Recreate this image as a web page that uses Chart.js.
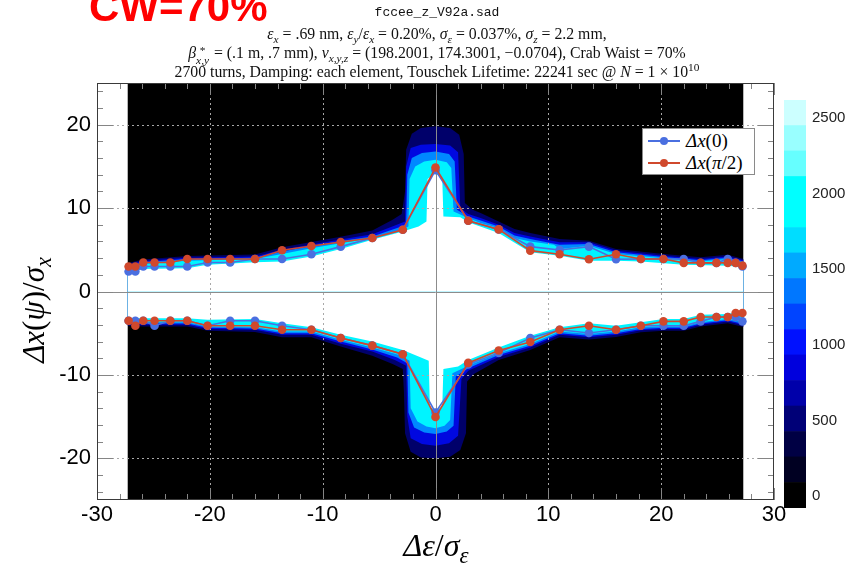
<!DOCTYPE html>
<html>
<head>
<meta charset="utf-8">
<script src="https://cdn.jsdelivr.net/npm/chart.js"></script>
<style>
  body { margin: 0; width: 861px; height: 570px; position: relative; overflow: hidden; background: #fff; }
  canvas { position: absolute; }
  .cw { position: absolute; left: 89px; top: -11px; font: bold 42px "Liberation Sans", sans-serif; color: #ff0000; line-height: 36px; white-space: nowrap; }
  .tl { position: absolute; left: 0; width: 874px; text-align: center; font: 15.8px "Liberation Serif", serif; line-height: 18px; white-space: nowrap; color: #111; }
  .mono { font: 13px "Liberation Mono", monospace; }
  sub, sup { line-height: 0; font-size: 0.72em; }
  .ss { display: inline-flex; flex-direction: column; vertical-align: 0.35em; font-size: 0.72em; line-height: 0.85; margin-right: 1px; }
  .axt { position: absolute; width: 220px; height: 44px; line-height: 44px; text-align: center; font: italic 31px "Liberation Serif", serif; white-space: nowrap; }
  .up { font-style: normal; }
  #legend { position: absolute; left: 642px; top: 128px; width: 111px; height: 45px; border: 1px solid #8a8a8a; background: #fff; }
  .lrow { position: absolute; left: 4px; height: 20px; display: flex; align-items: center; font: italic 19px "Liberation Serif", serif; white-space: nowrap; }
  .lrow svg { margin-right: 5px; }
</style>
</head>
<body>
<canvas id="main" width="861" height="570" style="left:0;top:0"></canvas>
<canvas id="cbar" width="77" height="440" style="left:784px;top:85px"></canvas>

<div class="cw">CW=70%</div>
<div class="tl mono" style="top:5px">fccee_z_V92a.sad</div>
<div class="tl" style="top:25px"><i>ε</i><sub><i>x</i></sub> = .69 nm, <i>ε</i><sub><i>y</i></sub>/<i>ε</i><sub><i>x</i></sub> = 0.20%, <i>σ</i><sub><i>ε</i></sub> = 0.037%, <i>σ</i><sub><i>z</i></sub> = 2.2 mm,</div>
<div class="tl" style="top:44px"><i>β</i><span class="ss"><span>*</span><span><i>x,y</i></span></span> = (.1 m, .7 mm), <i>ν</i><sub><i>x,y,z</i></sub> = (198.2001, 174.3001, −0.0704), Crab Waist = 70%</div>
<div class="tl" style="top:63px">2700 turns, Damping: each element, Touschek Lifetime: 22241 sec @ <i>N</i> = 1 × 10<sup>10</sup></div>

<div class="axt" style="left:-72px;top:288px;transform:rotate(-90deg)">Δx<span class="up">(</span>ψ<span class="up">)</span><span class="up">/</span>σ<sub>x</sub></div>
<div class="axt" style="left:326px;top:527px;font-size:32px">Δε<span class="up">/</span>σ<sub>ε</sub></div>

<div id="legend">
  <div class="lrow" style="top:2px"><svg width="34" height="12"><line x1="1" y1="6" x2="33" y2="6" stroke="#4a6fe0" stroke-width="2"/><circle cx="17" cy="6" r="4" fill="#4a6fe0"/></svg>Δx<span class="up">(0)</span></div>
  <div class="lrow" style="top:24px"><svg width="34" height="12"><line x1="1" y1="6" x2="33" y2="6" stroke="#d0482c" stroke-width="2"/><circle cx="17" cy="6" r="4" fill="#d0482c"/></svg>Δx<span class="up">(</span>π<span class="up">/2)</span></div>
</div>

<script>
// amplitude limit at each energy offset (units of sigma)
const dE = [-27.2, -26.6, -25.9, -24.9, -23.5, -22.0, -20.2, -18.2, -16.0, -13.6, -11.0, -8.4, -5.6, -2.9, 0,
            2.9, 5.6, 8.4, 11.0, 13.6, 16.0, 18.2, 20.2, 22.0, 23.5, 24.9, 25.9, 26.6, 27.2];
const blueUpper = [2.4, 2.4, 3.0, 3.0, 3.0, 3.0, 3.47, 3.47, 3.9, 3.9, 4.47, 5.38, 6.42, 7.4, 14.54,
                   8.48, 7.45, 5.38, 4.98, 5.38, 3.87, 3.9, 3.9, 3.9, 3.43, 3.43, 3.9, 3.43, 3.0];
const blueLower = [-3.5, -3.5, -3.5, -4.1, -3.5, -3.5, -4.1, -3.5, -3.5, -4.1, -4.58, -5.57, -6.49, -7.52, -14.5,
                   -8.75, -7.36, -5.57, -4.58, -4.97, -4.58, -4.1, -4.1, -4.1, -3.58, -3.06, -3.06, -3.06, -3.58];
const redUpper = [3.0, 3.0, 3.47, 3.47, 3.47, 3.9, 3.9, 3.9, 3.9, 4.94, 5.46, 5.94, 6.42, 7.4, 14.86,
                  8.48, 7.45, 4.9, 4.47, 3.87, 4.47, 3.9, 3.9, 3.43, 3.43, 3.43, 3.43, 3.43, 3.1];
const redLower = [-3.5, -4.1, -3.5, -3.5, -3.5, -3.5, -4.1, -4.1, -4.1, -4.58, -4.58, -5.57, -6.49, -7.52, -15.05,
                  -8.56, -7.08, -6.05, -4.58, -4.1, -4.58, -4.1, -3.58, -3.58, -3.06, -3.06, -3.06, -2.58, -2.58];

// survival density contours (outer edge of each colour level), [dE, amplitude]
const whiteUp = [[-27.3,2.2],[-25.9,2.7],[-22,2.8],[-20.2,3.2],[-16,3.5],[-13.6,3.6],[-11,4.2],[-8.4,5.1],[-5.6,6.2],[-2.9,7.2],[-1.5,7.8],[-0.8,8.4],[-0.7,13.5],[0,14.2],[0.6,13.5],[0.7,9.0],[2.2,8.9],[2.9,8.3],[5.6,7.0],[8.4,4.7],[11,4.3],[13.6,3.7],[16,3.7],[18.2,3.6],[22,3.2],[25.9,3.1],[27.3,2.9]];
const cyanUp = [[-27.3,2.9],[-25.9,3.3],[-22,3.7],[-16,3.9],[-13.6,4.5],[-11,5.2],[-8.4,5.8],[-5.6,6.4],[-3.2,7.3],[-2.4,7.8],[-2.3,13.5],[-1.8,15.0],[-1,15.6],[0,15.8],[1,15.5],[1.4,14.8],[1.6,9.6],[2.9,8.8],[4,8.2],[5.6,7.6],[7,6.4],[8.4,6.0],[10.5,5.6],[11,5.1],[13.6,5.5],[16,4.5],[20.2,4.0],[23.5,3.6],[25.9,3.9],[27.3,3.4]];
const azureUp = [[-27.3,3.05],[-25.9,3.5],[-22,3.9],[-16,4.05],[-13.6,4.8],[-11,5.45],[-8.4,6.05],[-5.6,6.6],[-3.4,7.6],[-2.6,8.0],[-2.5,14],[-2.1,16],[-1.2,16.6],[0,16.8],[1.2,16.5],[1.7,15.6],[1.9,9.8],[2.9,9.0],[4,8.5],[5.6,7.8],[7,6.7],[8.4,6.3],[11,5.6],[13.6,5.7],[16,4.7],[20.2,4.15],[23.5,3.75],[25.9,4.05],[27.3,3.6]];
const blueUp = [[-27.3,3.2],[-25.9,3.65],[-22,4.05],[-16,4.2],[-13.6,5.0],[-11,5.65],[-8.4,6.25],[-5.6,6.85],[-3.6,7.9],[-2.7,8.4],[-2.6,15],[-2.2,17.2],[-1.3,17.6],[0,17.7],[1.3,17.5],[2,16.7],[2.2,10],[2.9,9.3],[4,8.8],[5.6,8.0],[7,7.0],[8.4,6.6],[11,5.9],[13.6,5.9],[16,4.9],[20.2,4.3],[23.5,3.9],[25.9,4.2],[27.3,3.75]];
const navyUp = [[-27.3,3.4],[-25.9,3.85],[-22,4.25],[-16,4.45],[-13.6,5.3],[-11,5.95],[-8.4,6.55],[-5.6,7.3],[-3.8,8.6],[-3.0,9.3],[-2.7,12],[-2.6,17],[-2.1,18.9],[-1.3,19.6],[0,19.8],[1.3,19.6],[2.1,18.8],[2.5,16.5],[2.6,10.6],[3.3,9.8],[4,9.4],[5.6,8.4],[7,7.5],[8.4,7.0],[11,6.3],[13.6,6.1],[16,5.1],[20.2,4.5],[23.5,4.1],[25.9,4.4],[27.3,3.9]];
const whiteLow = [[-27.3,-3.2],[-25.9,-3.2],[-22,-3.2],[-20.2,-3.4],[-16,-3.3],[-13.6,-3.8],[-11,-4.3],[-8.4,-5.2],[-5.6,-6.0],[-2.9,-7.0],[-1.5,-7.8],[-0.6,-8.3],[-0.5,-13.8],[0,-14.3],[0.6,-13.8],[0.7,-9.3],[2,-9.0],[2.9,-8.2],[5.6,-6.7],[8.4,-5.3],[11,-4.3],[13.6,-3.8],[16,-4.1],[18.2,-3.7],[20.2,-3.3],[22,-3.3],[23.5,-2.8],[25.9,-2.7],[27.3,-2.3]];
const cyanLow = [[-27.3,-3.6],[-25.9,-3.7],[-22,-3.7],[-20.2,-4.2],[-16,-4.3],[-13.6,-4.8],[-11,-4.8],[-8.4,-5.8],[-5.6,-6.7],[-3.2,-7.6],[-2.3,-8.3],[-2.2,-14],[-1.6,-15.6],[-0.8,-16.2],[0,-16.4],[0.8,-16.1],[1.3,-15.4],[1.5,-9.8],[2.9,-8.9],[5.6,-7.4],[8.4,-6.3],[11,-4.8],[13.6,-5.1],[16,-4.8],[18.2,-4.3],[20.2,-4.2],[22,-4.2],[23.5,-3.7],[25.9,-3.3],[27.3,-3.7]];
const azureLow = [[-27.3,-3.75],[-25.9,-3.85],[-22,-3.85],[-20.2,-4.35],[-16,-4.45],[-13.6,-5.0],[-11,-5.0],[-8.4,-6.0],[-5.6,-6.95],[-3.4,-7.9],[-2.5,-8.6],[-2.4,-14.5],[-1.9,-16.3],[-1,-16.9],[0,-17.1],[1,-16.8],[1.6,-16.1],[1.8,-10.2],[2.9,-9.2],[5.6,-7.6],[8.4,-6.5],[11,-5.0],[13.6,-5.3],[16,-5.0],[18.2,-4.5],[20.2,-4.35],[22,-4.35],[23.5,-3.85],[25.9,-3.45],[27.3,-3.9]];
const blueLow = [[-27.3,-3.9],[-25.9,-4.0],[-22,-4.0],[-20.2,-4.5],[-16,-4.6],[-13.6,-5.2],[-11,-5.2],[-8.4,-6.25],[-5.6,-7.2],[-3.6,-8.2],[-2.6,-8.9],[-2.5,-15],[-2.2,-17.6],[-1.2,-18.3],[0,-18.5],[1.2,-18.2],[2.0,-17.3],[2.3,-10.5],[2.9,-9.5],[5.6,-7.85],[8.4,-6.7],[11,-5.2],[13.6,-5.5],[16,-5.2],[18.2,-4.65],[20.2,-4.5],[22,-4.5],[23.5,-4.0],[25.9,-3.6],[27.3,-4.05]];
const navyLow = [[-27.3,-4.1],[-25.9,-4.2],[-22,-4.2],[-20.2,-4.7],[-16,-4.85],[-13.6,-5.5],[-11,-5.5],[-8.4,-6.6],[-5.6,-7.7],[-3.8,-8.7],[-2.9,-9.3],[-2.8,-12],[-2.7,-17],[-2.2,-19.2],[-1.3,-19.9],[0,-20.0],[1.3,-19.8],[2.2,-19.0],[2.7,-17],[2.8,-10.8],[3.4,-9.9],[5.6,-8.2],[8.4,-7.0],[11,-5.5],[13.6,-5.75],[16,-5.45],[18.2,-4.9],[20.2,-4.7],[22,-4.7],[23.5,-4.2],[25.9,-3.8],[27.3,-4.25]];
const trackedRange = [[-27.3, 25], [27.3, 25]];

const xTicks = [-30, -20, -10, 0, 10, 20, 30];
const yTicks = [-20, -10, 0, 10, 20];
const gridLines = [-20, -10, 10, 20];

// colour bar: turns survived
const colorbarEdges = [0, 169, 338, 506, 675, 844, 1013, 1181, 1350, 1519, 1688, 1856, 2025, 2194, 2363, 2531, 2700];
const colorbarColors = ['#000000', '#000022', '#000044', '#000077', '#0000aa', '#0000dd', '#0011ff', '#0044ff',
                        '#0077ff', '#00aaff', '#00ddff', '#00ffff', '#00ffff', '#66ffff', '#99ffff', '#ccffff'];
const colorbarTicks = [0, 500, 1000, 1500, 2000, 2500];

const BLUE = '#4a6fe0', RED = '#d0482c';

function seriesLine(values, color) {
  return {
    data: dE.map((x, i) => ({ x: x, y: values[i] })),
    borderColor: color, backgroundColor: color, borderWidth: 1.6,
    pointRadius: 4.3, pointBorderWidth: 0, fill: false, tension: 0
  };
}
function band(points, color) {
  return {
    data: points, borderWidth: 0, borderColor: 'rgba(0,0,0,0)', backgroundColor: color,
    pointRadius: 0, fill: { value: 0 }, tension: 0
  };
}

const frameTicks = {
  id: 'frameTicks',
  beforeDatasetDraw(chart, args) {
    if (args.index !== 3) return;
    const { ctx, chartArea: a, scales: { x, y } } = chart;
    ctx.save();
    ctx.lineWidth = 1;
    ctx.strokeStyle = '#a8a8a8';
    ctx.setLineDash([2, 3]);
    gridLines.forEach(v => {
      const px = Math.round(x.getPixelForValue(v)) + 0.5;
      ctx.beginPath(); ctx.moveTo(px, a.top); ctx.lineTo(px, a.bottom); ctx.stroke();
      const py = Math.round(y.getPixelForValue(v)) + 0.5;
      ctx.beginPath(); ctx.moveTo(a.left, py); ctx.lineTo(a.right, py); ctx.stroke();
    });
    ctx.setLineDash([]);
    ctx.strokeStyle = '#8c8c8c';
    const x0 = Math.round(x.getPixelForValue(0)) + 0.5, y0 = Math.round(y.getPixelForValue(0)) + 0.5;
    ctx.beginPath(); ctx.moveTo(x0, a.top); ctx.lineTo(x0, a.bottom); ctx.stroke();
    ctx.beginPath(); ctx.moveTo(a.left, y0); ctx.lineTo(a.right, y0); ctx.stroke();
    ctx.restore();
  },
  afterDraw(chart) {
    const { ctx, chartArea: a, scales: { x, y } } = chart;
    ctx.save();
    ctx.lineWidth = 1;
    ctx.strokeStyle = '#858585';
    for (let v = -30; v <= 30; v += 2) {
      const len = v % 10 === 0 ? 12 : 6;
      const px = Math.round(x.getPixelForValue(v)) + 0.5;
      ctx.beginPath(); ctx.moveTo(px, a.bottom); ctx.lineTo(px, a.bottom - len); ctx.stroke();
      ctx.beginPath(); ctx.moveTo(px, a.top); ctx.lineTo(px, a.top + len); ctx.stroke();
    }
    for (let v = -24; v <= 24; v += 2) {
      const len = v % 10 === 0 ? 16 : 6;
      const py = Math.round(y.getPixelForValue(v)) + 0.5;
      ctx.beginPath(); ctx.moveTo(a.left, py); ctx.lineTo(a.left + len, py); ctx.stroke();
      ctx.beginPath(); ctx.moveTo(a.right, py); ctx.lineTo(a.right - len, py); ctx.stroke();
    }
    ctx.strokeStyle = '#3a3a3a';
    ctx.strokeRect(a.left + 0.5, a.top + 0.5, a.right - a.left - 1, a.bottom - a.top - 1);
    ctx.restore();
  }
};

new Chart(document.getElementById('main'), {
  type: 'line',
  data: {
    datasets: [
      seriesLine(redUpper, RED), seriesLine(redLower, RED),
      seriesLine(blueUpper, BLUE), seriesLine(blueLower, BLUE),
      band(whiteUp, '#ffffff'), band(whiteLow, '#ffffff'),
      band(cyanUp, '#00f4ff'), band(cyanLow, '#00f4ff'),
      band(azureUp, '#0088ff'), band(azureLow, '#0088ff'),
      band(blueUp, '#0008e0'), band(blueLow, '#0008e0'),
      band(navyUp, '#00006a'), band(navyLow, '#00006a'),
      { data: trackedRange, borderWidth: 0, borderColor: 'rgba(0,0,0,0)', backgroundColor: '#000000',
        pointRadius: 0, fill: { value: -25 } }
    ]
  },
  options: {
    responsive: false, animation: false, events: [],
    layout: { padding: { top: 83, right: 87, left: 0, bottom: 0 } },
    plugins: { legend: { display: false }, tooltip: { enabled: false } },
    scales: {
      x: {
        type: 'linear', min: -30, max: 30,
        afterBuildTicks: s => { s.ticks = xTicks.map(v => ({ value: v })); },
        afterFit: s => { s.height = 70; },
        grid: { display: false, drawTicks: false }, border: { display: false },
        ticks: { autoSkip: false, maxRotation: 0, padding: 2, color: '#000',
                 font: { family: 'Liberation Sans', size: 22 } }
      },
      y: {
        type: 'linear', min: -25, max: 25,
        afterBuildTicks: s => { s.ticks = yTicks.map(v => ({ value: v })); },
        afterFit: s => { s.width = 97; },
        grid: { display: false, drawTicks: false }, border: { display: false },
        ticks: { padding: 6, color: '#000', font: { family: 'Liberation Sans', size: 22 } }
      }
    }
  },
  plugins: [frameTicks]
});

new Chart(document.getElementById('cbar'), {
  type: 'bar',
  data: {
    labels: [''],
    datasets: colorbarColors.map((c, i) => ({
      data: [[colorbarEdges[i], colorbarEdges[i + 1]]], backgroundColor: c, borderWidth: 0,
      barPercentage: 1, categoryPercentage: 1, grouped: false
    }))
  },
  options: {
    responsive: false, animation: false, events: [],
    layout: { padding: { top: 10, bottom: 17, left: 0, right: 0 } },
    plugins: { legend: { display: false }, tooltip: { enabled: false } },
    scales: {
      x: { display: false },
      y: {
        position: 'right', min: 0, max: 2700,
        afterBuildTicks: s => { s.ticks = colorbarTicks.map(v => ({ value: v })); },
        afterFit: s => { s.width = 55; },
        grid: { display: false, drawTicks: false }, border: { display: false },
        ticks: { padding: 6, labelOffset: -12, color: '#222', callback: v => String(v),
                 font: { family: 'Liberation Sans', size: 15 } }
      }
    }
  }
});
</script>
</body>
</html>
